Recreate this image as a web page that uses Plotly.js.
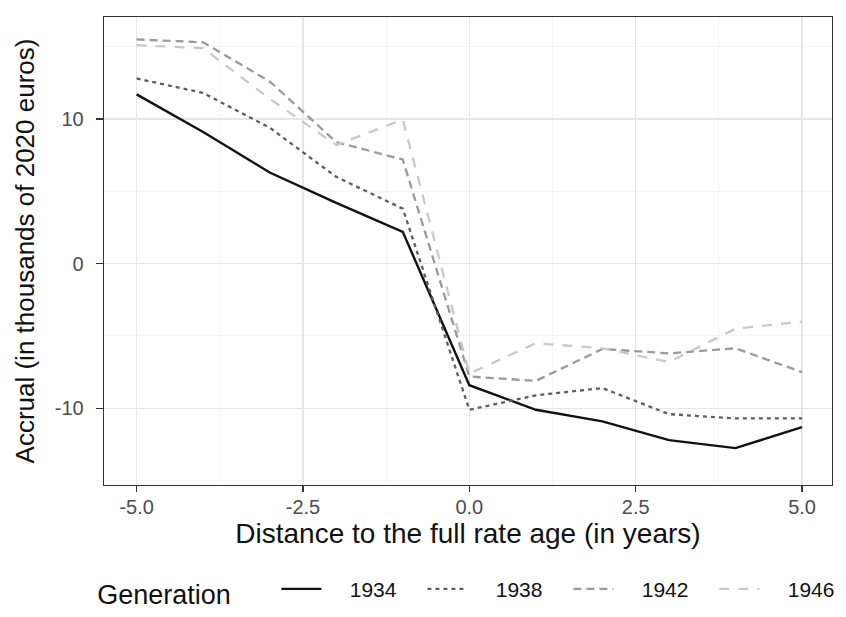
<!DOCTYPE html>
<html>
<head>
<meta charset="utf-8">
<script src="https://cdn.plot.ly/plotly-3.0.1.min.js"></script>
<style>
html,body{margin:0;padding:0;background:#fff;}
#chart{width:846px;height:617px;}
</style>
</head>
<body>
<div id="chart"></div>
<script>
// Distance to full-rate age (years)
var distance = [-5, -4, -3, -2, -1, 0, 1, 2, 3, 4, 5];
// Accrual, thousands of 2020 euros, by generation
var gen1934 = [11.7, 9.1, 6.3, 4.2, 2.2, -8.4, -10.1, -10.9, -12.2, -12.75, -11.3];
var gen1938 = [12.8, 11.8, 9.4, 6.0, 3.8, -10.1, -9.1, -8.6, -10.4, -10.7, -10.7];
var gen1942 = [15.5, 15.3, 12.6, 8.4, 7.2, -7.8, -8.1, -5.9, -6.2, -5.85, -7.5];
var gen1946 = [15.1, 14.9, 11.4, 8.2, 9.96, -7.6, -5.5, -5.85, -6.8, -4.5, -4.0];
var generations = ['1934', '1938', '1942', '1946'];
var xTickVals = [-5, -2.5, 0, 2.5, 5];
var xTickText = ['-5.0', '-2.5', '0.0', '2.5', '5.0'];
var yTickVals = [-10, 0, 10];
var yTickText = ['-10', '0', '10'];

var series = [gen1934, gen1938, gen1942, gen1946];
var styles = [
  {color: '#111111', dash: 'solid', width: 2.4},
  {color: '#5e5e5e', dash: '4px,4px', width: 2.3},
  {color: '#9a9a9a', dash: '8px,5px', width: 2.3},
  {color: '#c9c9c9', dash: '10px,9px', width: 2.3}
];

var pad = '\u00a0\u00a0\u00a0\u00a0';
var traces = series.map(function (vals, i) {
  return {
    x: distance,
    y: vals,
    type: 'scatter',
    mode: 'lines',
    name: pad + generations[i],
    line: styles[i]
  };
});

var layout = {
  width: 846,
  height: 617,
  paper_bgcolor: '#ffffff',
  plot_bgcolor: '#ffffff',
  margin: {l: 104, r: 14, t: 17, b: 132, autoexpand: false},
  font: {family: 'Liberation Sans, Arial, sans-serif', color: '#000'},
  showlegend: true,
  xaxis: {
    automargin: false,
    range: [-5.49, 5.45],
    tickvals: xTickVals,
    ticktext: xTickText,
    tickfont: {size: 20, color: '#4d4d4d'},
    ticks: 'outside', ticklen: 6, tickwidth: 1.3, tickcolor: '#333333',
    ticklabelstandoff: -2,
    showgrid: true, gridcolor: '#e6e6e6', gridwidth: 1.2,
    minor: {dtick: 1.25, tick0: 0, showgrid: true, gridcolor: '#f2f2f2', gridwidth: 0.8, ticks: ''},
    showline: true, mirror: true, linecolor: '#333333', linewidth: 1.3,
    zeroline: false,
    title: {text: 'Distance to the full rate age (in years)', font: {size: 28, color: '#111'}, standoff: 1}
  },
  yaxis: {
    automargin: false,
    range: [-15.3, 17.05],
    tickvals: yTickVals,
    ticktext: yTickText,
    tickfont: {size: 20, color: '#4d4d4d'},
    ticks: 'outside', ticklen: 7, tickwidth: 1.3, tickcolor: '#333333',
    ticklabelstandoff: 8,
    showgrid: true, gridcolor: '#e6e6e6', gridwidth: 1.2,
    minor: {dtick: 5, tick0: 0, showgrid: true, gridcolor: '#f2f2f2', gridwidth: 0.8, ticks: ''},
    showline: true, mirror: true, linecolor: '#333333', linewidth: 1.3,
    zeroline: false,
    title: {text: 'Accrual (in thousands of 2020 euros)', font: {size: 26, color: '#111'}, standoff: 12}
  },
  legend: {
    orientation: 'h',
    x: -0.012, xanchor: 'left',
    y: -0.228, yanchor: 'middle',
    font: {size: 21, color: '#111'},
    title: {text: 'Generation     ', font: {size: 27, color: '#111'}, side: 'left'},
    entrywidth: 91,
    itemwidth: 40,
    bgcolor: 'rgba(0,0,0,0)'
  }
};

Plotly.newPlot('chart', traces, layout, {displayModeBar: false, staticPlot: true});
</script>
</body>
</html>
